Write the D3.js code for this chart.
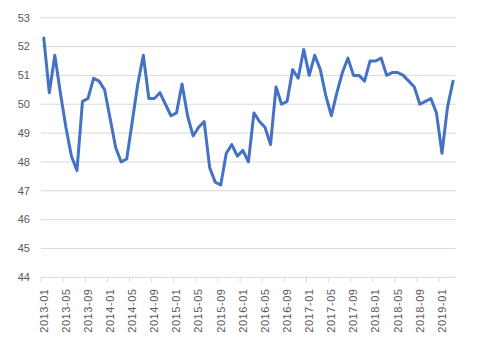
<!DOCTYPE html>
<html>
<head>
<meta charset="utf-8">
<script src="https://cdn.jsdelivr.net/npm/d3@7"></script>
<style>
  body { margin: 0; background: #fff; }
  svg { display: block; }
  text { font-family: "Liberation Sans", Arial, sans-serif; fill: #595959; }
</style>
</head>
<body>
<div id="chart"></div>
<script>
const months = [
  "2013-01","2013-02","2013-03","2013-04","2013-05","2013-06","2013-07","2013-08","2013-09","2013-10","2013-11","2013-12",
  "2014-01","2014-02","2014-03","2014-04","2014-05","2014-06","2014-07","2014-08","2014-09","2014-10","2014-11","2014-12",
  "2015-01","2015-02","2015-03","2015-04","2015-05","2015-06","2015-07","2015-08","2015-09","2015-10","2015-11","2015-12",
  "2016-01","2016-02","2016-03","2016-04","2016-05","2016-06","2016-07","2016-08","2016-09","2016-10","2016-11","2016-12",
  "2017-01","2017-02","2017-03","2017-04","2017-05","2017-06","2017-07","2017-08","2017-09","2017-10","2017-11","2017-12",
  "2018-01","2018-02","2018-03","2018-04","2018-05","2018-06","2018-07","2018-08","2018-09","2018-10","2018-11","2018-12",
  "2019-01","2019-02","2019-03"
];
const values = [
  52.3,50.4,51.7,50.4,49.2,48.2,47.7,50.1,50.2,50.9,50.8,50.5,
  49.5,48.5,48.0,48.1,49.4,50.7,51.7,50.2,50.2,50.4,50.0,49.6,
  49.7,50.7,49.6,48.9,49.2,49.4,47.8,47.3,47.2,48.3,48.6,48.2,
  48.4,48.0,49.7,49.4,49.2,48.6,50.6,50.0,50.1,51.2,50.9,51.9,
  51.0,51.7,51.2,50.3,49.6,50.4,51.1,51.6,51.0,51.0,50.8,51.5,
  51.5,51.6,51.0,51.1,51.1,51.0,50.8,50.6,50.0,50.1,50.2,49.7,
  48.3,49.9,50.8
];
const yTicks = [44,45,46,47,48,49,50,51,52,53];

const W = 484, H = 344;
const svg = d3.select("#chart").append("svg").attr("width", W).attr("height", H);

const x = d3.scaleBand().domain(months).range([41, 455.8]).padding(0);
const y = d3.scaleLinear().domain([44, 53]).range([277.3, 17.7]);
const cx = d => x(d) + x.bandwidth() / 2;

// gridlines
svg.append("g").selectAll("line").data(yTicks.filter(t => t !== 44)).join("line")
  .attr("x1", 41).attr("x2", 455.8)
  .attr("y1", d => y(d)).attr("y2", d => y(d))
  .attr("stroke", "#D9D9D9").attr("stroke-width", 1);

// y labels
svg.append("g").selectAll("text").data(yTicks).join("text")
  .attr("x", 30).attr("y", d => y(d)).attr("dy", "0.35em")
  .attr("text-anchor", "end").attr("font-size", "11px")
  .text(d => d);

// x axis line
svg.append("line").attr("x1", 41).attr("x2", 455.8)
  .attr("y1", y(44)).attr("y2", y(44))
  .attr("stroke", "#D9D9D9").attr("stroke-width", 1);

const tickMonths = months.filter((m, i) => i % 4 === 0);
svg.append("g").selectAll("line").data(tickMonths).join("line")
  .attr("x1", d => x(d)).attr("x2", d => x(d))
  .attr("y1", y(44)).attr("y2", y(44) + 5)
  .attr("stroke", "#D9D9D9").attr("stroke-width", 1);

svg.append("g").selectAll("text").data(tickMonths).join("text")
  .attr("transform", d => `translate(${cx(d)},288.5) rotate(-90)`)
  .attr("dy", "0.35em").attr("text-anchor", "end")
  .attr("font-size", "11px").attr("letter-spacing", "0.55px")
  .text(d => d);

// line
const line = d3.line().x((d, i) => cx(months[i])).y(d => y(d));
svg.append("path").datum(values)
  .attr("d", line)
  .attr("fill", "none").attr("stroke", "#4472C4")
  .attr("stroke-width", 3).attr("stroke-linejoin", "round").attr("stroke-linecap", "round");
</script>
</body>
</html>
